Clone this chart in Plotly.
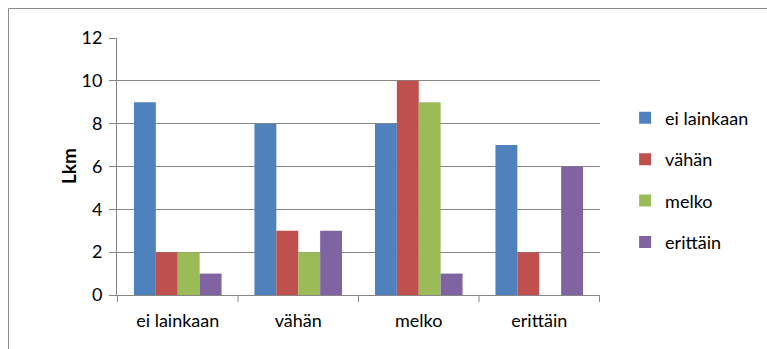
import plotly.graph_objects as go

# Response categories on the x axis
categories = ["ei lainkaan", "vähän", "melko", "erittäin"]

# One series per answer group
series_names = ["ei lainkaan", "vähän", "melko", "erittäin"]
values_ei_lainkaan = [9, 8, 8, 7]
values_vahan = [2, 3, 10, 2]
values_melko = [2, 2, 9, 0]
values_erittain = [1, 3, 1, 6]

y_ticks = [0, 2, 4, 6, 8, 10, 12]

colors = ["#4F81BD", "#C0504D", "#9BBB59", "#8064A2"]
series_values = [values_ei_lainkaan, values_vahan, values_melko, values_erittain]

FONT = "Lato"
FS = 18
W, H = 767, 349
ML, MR, MT, MB = 117, 167, 38, 54
PW, PH = W - ML - MR, H - MT - MB

fig = go.Figure()
for i, (name, vals, col) in enumerate(zip(series_names, series_values, colors)):
    fig.add_trace(go.Bar(
        x=categories, y=vals, name=name,
        marker=dict(color=col, line=dict(width=0)),
        legendgroup=f"g{i}",
    ))

grid_color = "#868686"

fig.update_layout(
    width=W, height=H,
    margin=dict(l=ML, r=MR, t=MT, b=MB, pad=0),
    paper_bgcolor="white", plot_bgcolor="white",
    barmode="group", bargap=0.273, bargroupgap=0,
    font=dict(family=FONT, size=FS, color="black"),
    showlegend=True,
    legend=dict(
        x=1.052, y=0.447, xanchor="left", yanchor="middle",
        font=dict(family=FONT, size=FS, color="black"),
        tracegroupgap=15, itemclick=False,
        bgcolor="rgba(0,0,0,0)",
    ),
    xaxis=dict(
        type="category", showgrid=False,
        showline=True, linecolor=grid_color, linewidth=1,
        ticks="", tickfont=dict(family=FONT, size=FS),
        ticklabelstandoff=9,
    ),
    yaxis=dict(
        range=[0, 12], tickvals=y_ticks,
        showgrid=True, gridcolor=grid_color, gridwidth=1,
        showline=True, linecolor=grid_color, linewidth=1,
        ticks="outside", ticklen=7, tickcolor=grid_color,
        tickfont=dict(family=FONT, size=FS),
        ticklabelstandoff=3,
        zeroline=False,
    ),
)

# Tick marks below the category axis at the group boundaries
for k in range(len(categories) + 1):
    fig.add_shape(type="line", xref="x", yref="paper",
                  x0=k - 0.5, x1=k - 0.5, y0=0, y1=-7 / PH,
                  line=dict(color=grid_color, width=1))

# Axis title
fig.add_annotation(text="<b>Lkm</b>", textangle=-90, xref="paper", yref="paper",
                   x=(55 - ML) / PW, y=0.5, showarrow=False,
                   font=dict(family=FONT, size=19, color="black"))

# Chart area border
fig.add_shape(type="rect", xref="paper", yref="paper",
              x0=(8.5 - ML) / PW, x1=(800 - ML) / PW,
              y0=(H - MT - 400) / PH, y1=1 + (MT - 8.5) / PH,
              line=dict(color="#8C8C8C", width=1), layer="below")

fig.write_html("out.html")
